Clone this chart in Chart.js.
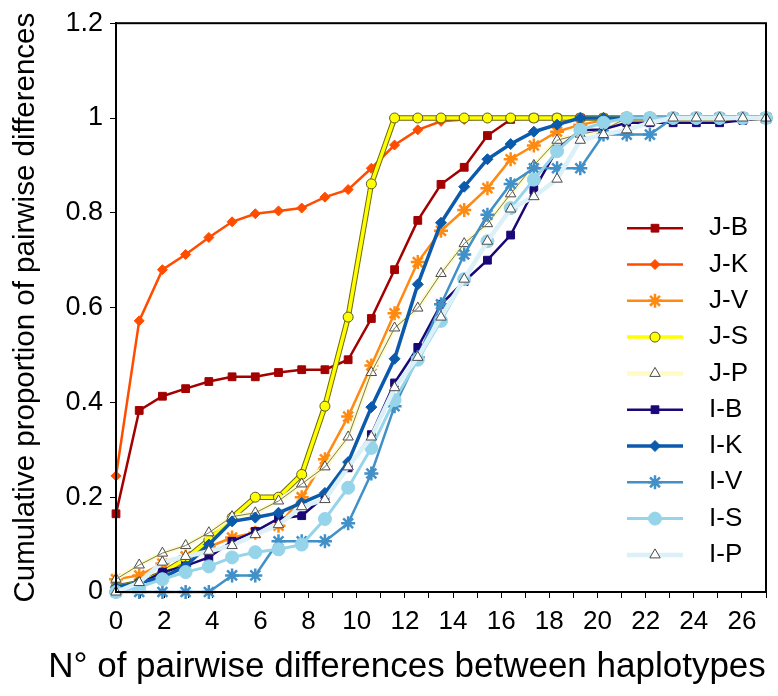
<!DOCTYPE html>
<html>
<head>
<meta charset="utf-8">
<title>Cumulative pairwise differences</title>
<script src="https://cdn.jsdelivr.net/npm/chart.js@4/dist/chart.umd.min.js"></script>
<style>
  html, body { margin: 0; padding: 0; background: #fff; }
  #wrap { width: 778px; height: 696px; }
</style>
</head>
<body>
<div id="wrap"><canvas id="chart" width="778" height="696"></canvas></div>
<script>
const FONT = "'Liberation Sans', Arial, sans-serif"

// === Data === //

// number of pairwise differences (one point per step)
const diffs = [0, 1, 2, 3, 4, 5, 6, 7, 8, 9, 10, 11, 12, 13, 14, 15, 16, 17, 18, 19, 20, 21, 22, 23, 24, 25, 26, 27, 28]
// labels on the visible axis
const axisMax = 27

const jB = [0.165, 0.383, 0.413, 0.429, 0.444, 0.454, 0.454, 0.463, 0.469, 0.469, 0.49, 0.577, 0.68, 0.784, 0.86, 0.896, 0.963, 0.997, 1, 1, 1, 1, 1, 1, 1, 1, 1, 1, 1]
const jK = [0.245, 0.572, 0.68, 0.712, 0.748, 0.781, 0.798, 0.804, 0.81, 0.833, 0.849, 0.894, 0.943, 0.975, 0.993, 0.997, 1, 1, 1, 1, 1, 1, 1, 1, 1, 1, 1, 1, 1]
const jV = [0.027, 0.035, 0.06, 0.075, 0.095, 0.115, 0.125, 0.14, 0.2, 0.28, 0.37, 0.478, 0.588, 0.696, 0.762, 0.806, 0.852, 0.913, 0.942, 0.971, 0.986, 0.995, 1, 1, 1, 1, 1, 1, 1]
const jS = [0.01, 0.02, 0.04, 0.07, 0.11, 0.157, 0.2, 0.2, 0.248, 0.392, 0.58, 0.861, 1, 1, 1, 1, 1, 1, 1, 1, 1, 1, 1, 1, 1, 1, 1, 1, 1]
const jP = [0.027, 0.057, 0.082, 0.098, 0.125, 0.159, 0.167, 0.192, 0.228, 0.264, 0.327, 0.463, 0.557, 0.599, 0.672, 0.735, 0.777, 0.84, 0.9, 0.953, 0.966, 0.975, 1, 1, 1, 1, 1, 1, 1]
const iB = [0.005, 0.017, 0.042, 0.055, 0.073, 0.107, 0.128, 0.155, 0.161, 0.202, 0.262, 0.332, 0.441, 0.516, 0.607, 0.655, 0.7, 0.753, 0.848, 0.934, 0.974, 0.976, 0.99, 0.99, 0.99, 0.99, 0.99, 0.995, 1]
const iK = [0.01, 0.02, 0.03, 0.055, 0.1, 0.149, 0.157, 0.167, 0.188, 0.209, 0.274, 0.39, 0.492, 0.649, 0.779, 0.855, 0.913, 0.945, 0.971, 0.986, 1, 1, 1, 1, 1, 1, 1, 1, 1]
const iV = [0, 0, 0, 0, 0, 0.035, 0.035, 0.107, 0.107, 0.107, 0.145, 0.25, 0.392, 0.495, 0.607, 0.712, 0.796, 0.861, 0.894, 0.894, 0.894, 0.965, 0.965, 0.965, 1, 1, 1, 1, 1]
const iS = [0, 0.01, 0.027, 0.042, 0.054, 0.073, 0.084, 0.09, 0.1, 0.154, 0.22, 0.304, 0.405, 0.49, 0.572, 0.66, 0.74, 0.81, 0.87, 0.93, 0.975, 0.99, 1, 1, 1, 1, 1, 1, 1]
const iP = [0, 0.02, 0.063, 0.075, 0.086, 0.098, 0.121, 0.142, 0.18, 0.195, 0.264, 0.327, 0.431, 0.495, 0.58, 0.66, 0.74, 0.808, 0.834, 0.871, 0.953, 0.965, 0.975, 0.99, 1, 1, 1, 1, 1]

const yTitle = "Cumulative proportion of pairwise differences"
const xTitle = "N\u00b0 of pairwise differences between haplotypes"

// === Dataset builders === //

function series(label, data, color, style, opts) {
  return Object.assign({
    label: label,
    data: data,
    borderColor: color,
    borderWidth: 2.5,
    pointStyle: style,
    pointRadius: 5,
    pointHoverRadius: 5,
    pointBackgroundColor: color,
    pointBorderColor: color,
    pointBorderWidth: 1,
    tension: 0,
    fill: false,
    clip: false
  }, opts || {})
}

// thin dark line that sits along the pale/yellow series
function edge(data, color, width, order) {
  return {
    data: data,
    borderColor: color,
    borderWidth: width,
    pointRadius: 0,
    pointHoverRadius: 0,
    tension: 0,
    fill: false,
    clip: false,
    noLegend: true,
    order: order
  }
}

const datasets = [
  series("J-B", jB, "#a30000", "rect", { pointRadius: 5.5, order: 20 }),
  series("J-K", jK, "#ff4d00", "rectRot", { pointRadius: 5, order: 19 }),
  series("J-V", jV, "#ff8a12", "star", { pointRadius: 7, pointBorderWidth: 2.5, order: 18 }),
  edge(jS, "#6d6a00", 5.5, 17.5),
  series("J-S", jS, "#ffff00", "circle", { borderWidth: 3.5, pointRadius: 5, pointBorderColor: "#5a5a20", order: 17 }),
  series("J-P", jP, "#fffbc4", "triangle", { borderWidth: 4.5, pointRadius: 6, pointBackgroundColor: "#ffffff", pointBorderColor: "#4a4a4a", order: 16 }),
  edge(jP, "#7a7a66", 1, 15.5),
  series("I-B", iB, "#1a0878", "rect", { pointRadius: 5.5, order: 15 }),
  series("I-K", iK, "#0b5aab", "rectRot", { borderWidth: 3.5, pointRadius: 5.5, order: 14 }),
  series("I-V", iV, "#4190c8", "star", { pointRadius: 7, pointBorderWidth: 2.5, order: 13 }),
  series("I-S", iS, "#96d4ea", "circle", { borderWidth: 3, pointRadius: 6.5, order: 12 }),
  series("I-P", iP, "#dcf0f8", "triangle", { borderWidth: 4.5, pointRadius: 6, pointBackgroundColor: "#ffffff", pointBorderColor: "#4a4a4a", order: 11 })
]

// === Plugins === //

// black frame round the plot
const plotFrame = {
  id: 'plotFrame',
  afterDatasetsDraw(chart) {
    const { ctx, chartArea } = chart
    ctx.save()
    ctx.strokeStyle = '#000'
    ctx.lineWidth = 2
    ctx.strokeRect(chartArea.left, chartArea.top, chartArea.right - chartArea.left, chartArea.bottom - chartArea.top)
    ctx.restore()
  }
}

// legend inside the plot: line sample with marker, then the name
const lineLegend = {
  id: 'lineLegend',
  afterDraw(chart) {
    const { ctx, chartArea } = chart
    const x0 = chartArea.right - 139
    const y0 = chartArea.top + 205
    const drawPoint = Chart.helpers && Chart.helpers.drawPoint
    let row = 0
    chart.data.datasets.forEach(ds => {
      if (ds.noLegend) return
      const y = y0 + row * 36.3
      row++
      ctx.save()
      ctx.strokeStyle = ds.borderColor
      ctx.lineWidth = ds.borderWidth
      ctx.beginPath()
      ctx.moveTo(x0, y)
      ctx.lineTo(x0 + 56, y)
      ctx.stroke()
      ctx.fillStyle = ds.pointBackgroundColor
      ctx.strokeStyle = ds.pointBorderColor
      ctx.lineWidth = ds.pointBorderWidth
      if (drawPoint) {
        drawPoint(ctx, { pointStyle: ds.pointStyle, radius: ds.pointRadius, rotation: 0, borderWidth: ds.pointBorderWidth }, x0 + 28, y)
      } else {
        ctx.beginPath()
        ctx.arc(x0 + 28, y, ds.pointRadius, 0, Math.PI * 2)
        ctx.fill()
        ctx.stroke()
      }
      ctx.fillStyle = '#000'
      ctx.font = "26px " + FONT
      ctx.textAlign = 'left'
      ctx.textBaseline = 'middle'
      ctx.fillText(ds.label, x0 + 82, y)
      ctx.restore()
    })
  }
}

// === Chart === //

const axisGrid = { drawOnChartArea: false, drawTicks: true, tickLength: 6, color: '#000', lineWidth: 1 }

new Chart(document.getElementById('chart'), {
  type: 'line',
  data: { labels: diffs, datasets: datasets },
  options: {
    responsive: false,
    animation: false,
    layout: { padding: { left: 36, right: 0, top: 20, bottom: 0 } },
    scales: {
      x: { type: 'category', display: false, offset: false },
      xL: {
        type: 'linear',
        position: 'bottom',
        min: 0,
        max: axisMax,
        afterFit: s => { s.height = 54 },
        border: { color: '#000', width: 2 },
        grid: axisGrid,
        ticks: {
          stepSize: 1,
          autoSkip: false,
          maxRotation: 0,
          padding: 8,
          color: '#000',
          font: { family: FONT, size: 26 },
          callback: v => (v % 2 === 0 ? String(v) : '')
        }
      },
      y: {
        min: 0,
        max: 1.2,
        afterFit: s => { s.width = 80 },
        border: { color: '#000', width: 2 },
        grid: axisGrid,
        ticks: {
          stepSize: 0.2,
          padding: 7,
          color: '#000',
          font: { family: FONT, size: 27 },
          callback: v => String(+v.toFixed(1))
        },
        title: {
          display: true,
          text: yTitle,
          color: '#000',
          font: { family: FONT, size: 29.5 },
          padding: { top: -28, bottom: 0 }
        }
      },
      yR: {
        position: 'right',
        min: 0,
        max: 1,
        grid: { display: false },
        ticks: { display: false },
        border: { display: false },
        afterFit: s => { s.width = 12 }
      }
    },
    plugins: {
      legend: { display: false },
      tooltip: { enabled: false },
      title: {
        display: true,
        position: 'bottom',
        text: xTitle,
        color: '#000',
        font: { family: FONT, size: 35, weight: 'normal' },
        padding: { top: 0, bottom: 8 }
      }
    }
  },
  plugins: [plotFrame, lineLegend]
})
</script>
</body>
</html>
